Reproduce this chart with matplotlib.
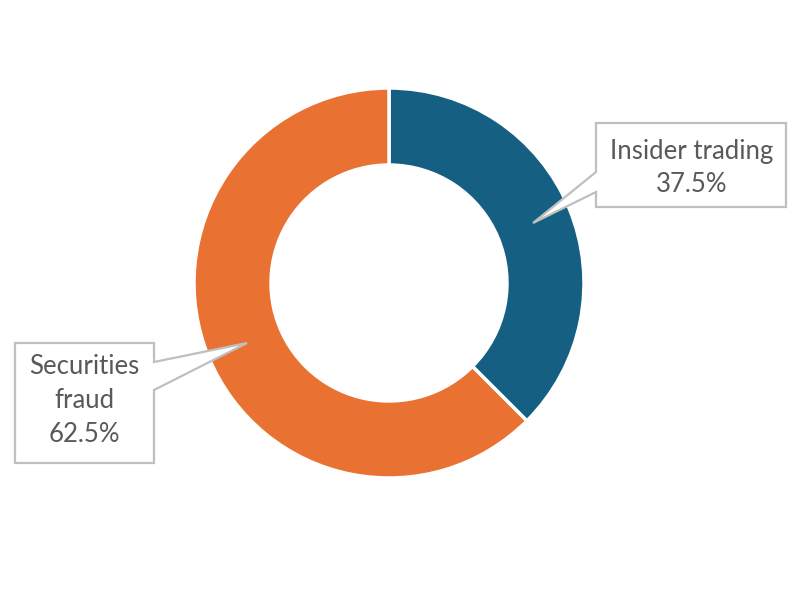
import matplotlib
matplotlib.use("Agg")
import matplotlib.pyplot as plt
from matplotlib.patches import Polygon

categories = ["Insider trading", "Securities fraud"]
label_lines = ["Insider trading", "Securities\nfraud"]
values = [37.5, 62.5]
colors = ["#156082", "#E97132"]

W, H = 800, 600
fig = plt.figure(figsize=(8, 6), dpi=100)
ax = fig.add_axes([0, 0, 1, 1])
ax.set_xlim(0, W)
ax.set_ylim(0, H)
ax.set_aspect("equal")
ax.axis("off")

cx, cy, R = 389, H - 283, 195
ax.pie(values, colors=colors, startangle=90, counterclock=False,
       center=(cx, cy), radius=R, frame=True,
       wedgeprops=dict(width=R * 0.395, edgecolor="white", linewidth=2.5))
ax.set_xlim(0, W)
ax.set_ylim(0, H)
ax.axis("off")

def callout(box, base, tip, side):
    l, t, r, b = box
    t, b = H - t, H - b
    b1, b2 = H - base[0], H - base[1]
    tx, ty = tip[0], H - tip[1]
    if side == "left":
        pts = [(l, t), (r, t), (r, b), (l, b), (l, b2), (tx, ty), (l, b1)]
    else:
        pts = [(l, t), (r, t), (r, b1), (tx, ty), (r, b2), (r, b), (l, b)]
    ax.add_patch(Polygon(pts, closed=True, facecolor="white",
                         edgecolor="#BFBFBF", linewidth=1.6, zorder=5))

callout((596, 123, 786, 207), (172, 192), (533, 223), "left")
callout((15, 343, 154, 463), (362, 390), (247, 343), "right")

txt = dict(fontfamily="Lato", fontsize=18.5, color="#595959", ha="center",
           va="center", linespacing=1.45, zorder=6)
ax.text(692, H - 168, f"{label_lines[0]}\n{values[0]}%", **txt)
ax.text(84, H - 401, f"{label_lines[1]}\n{values[1]}%", **txt)

fig.savefig("out.png", dpi=100, facecolor="white")
